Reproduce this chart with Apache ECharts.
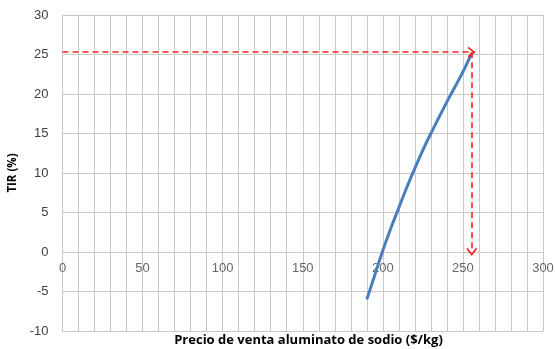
<!DOCTYPE html>
<html><head><meta charset="utf-8">
<script src="https://cdn.jsdelivr.net/npm/echarts@6/dist/echarts.min.js"></script>
<style>html,body{margin:0;padding:0;background:#fff}#c{width:555px;height:349px}</style>
</head><body><div id="c"></div>
<script>
const priceX = [190, 195, 200, 205, 210, 215, 220, 225, 230, 240, 250, 255.5];
const tirY   = [-6, -2.9, 0.2, 3.0, 5.6, 8.2, 10.6, 12.9, 15.0, 19.0, 22.8, 25.2];
const xTickLabels = [0, 50, 100, 150, 200, 250, 300];
const targetPrice = 255.5;
const targetTIR = 25.3;
const xTitle = 'Precio de venta aluminato de sodio ($/kg)';
const yTitle = 'TIR (%)';

const chevron = 'path://M0,9 L5,0 L10,9 L8.6,9.8 L5,3.4 L1.4,9.8 Z';
const chart = echarts.init(document.getElementById('c'));
const font = 'Liberation Sans';
chart.setOption({
  animation: false,
  title: {
    text: xTitle, left: 303.5, top: 329, textAlign: 'center',
    textStyle: {fontFamily: 'Open Sans', fontWeight: 'bold', fontSize: 13, color: '#000'}
  },
  grid: {left: 62.5, right: 12, top: 15, bottom: 18, containLabel: false, outerBoundsMode: 'none'},
  xAxis: {
    type: 'value', min: 0, max: 300, interval: 10,
    axisLine: {show: true, lineStyle: {color: '#c8c8c8', width: 1}},
    axisTick: {show: false},
    axisLabel: {show: false},
    splitLine: {show: true, lineStyle: {color: '#c8c8c8', width: 1}}
  },
  yAxis: {
    type: 'value', min: -10, max: 30, interval: 5,
    axisLine: {show: true, lineStyle: {color: '#c8c8c8'}},
    axisTick: {show: false},
    axisLabel: {color: '#404040', fontFamily: font, fontSize: 13, margin: 14},
    splitLine: {show: true, lineStyle: {color: '#c8c8c8', width: 1}},
    name: yTitle, nameLocation: 'middle', nameGap: 39, nameRotate: 90,
    nameTextStyle: {fontFamily: 'Open Sans', fontWeight: 'bold', fontSize: 11.5, color: '#000'}
  },
  series: [{
    type: 'scatter', symbolSize: 0, silent: true,
    data: xTickLabels.map(v => [v, 0]),
    label: {show: true, position: 'bottom', distance: 10, color: '#404040',
      fontFamily: font, fontSize: 13, formatter: p => String(p.value[0])}
  }, {
    type: 'line', smooth: true, symbol: 'none',
    data: priceX.map((x, i) => [x, tirY[i]]),
    lineStyle: {color: '#4a7ebb', width: 3},
    markLine: {
      silent: true, symbol: ['none', chevron], symbolSize: [11, 8],
      label: {show: false},
      lineStyle: {color: '#ff2020', type: [6, 4], width: 1.6},
      data: [
        [{coord: [0, targetTIR]}, {coord: [targetPrice, targetTIR]}],
        [{coord: [targetPrice, targetTIR]}, {coord: [targetPrice, 0]}]
      ]
    }
  }]
});
</script>
</body></html>
